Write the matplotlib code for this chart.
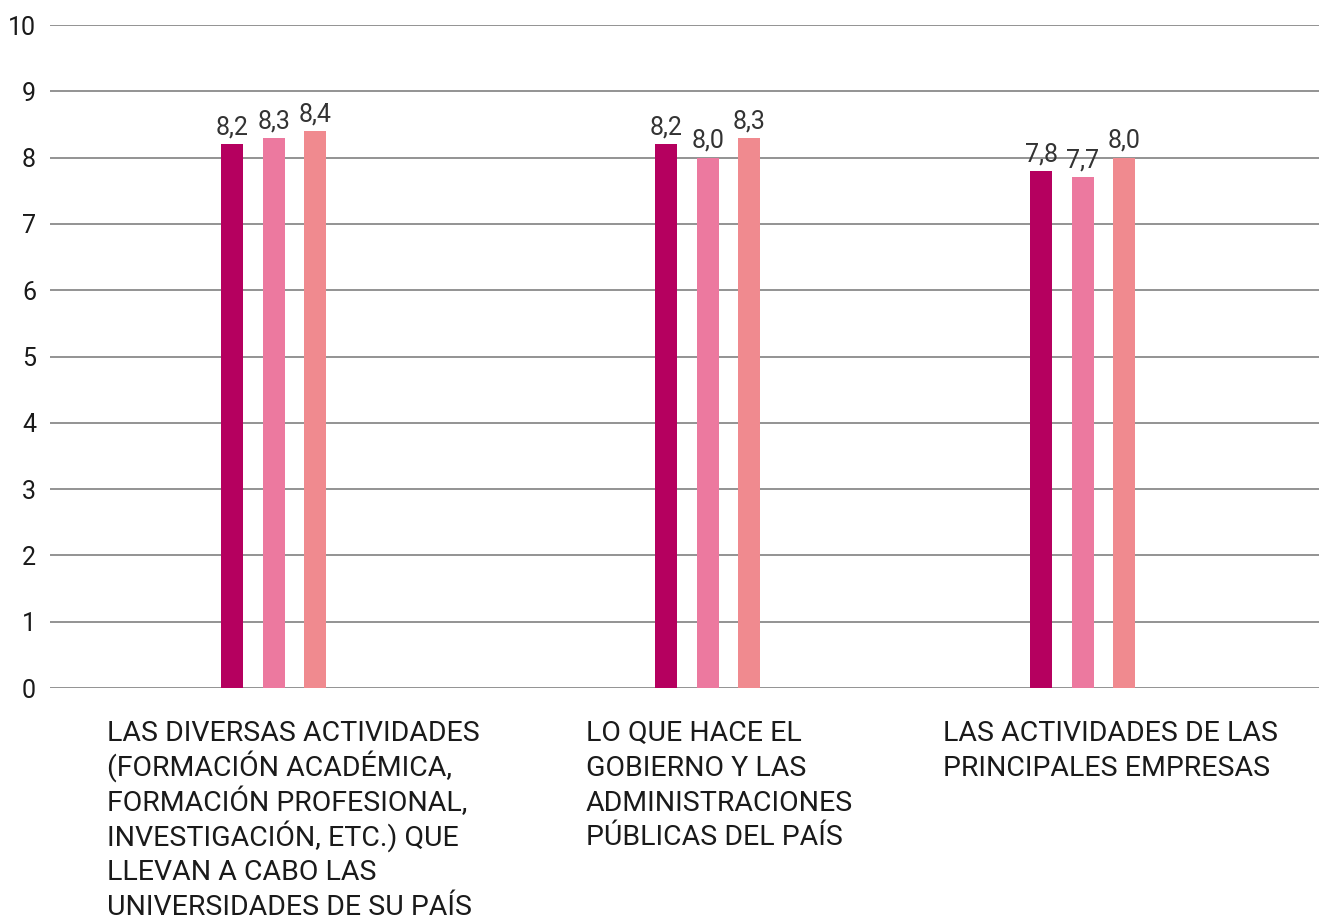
import numpy as np
import matplotlib.pyplot as plt

# datos
categorias = [
    ["LAS DIVERSAS ACTIVIDADES", "(FORMACIÓN ACADÉMICA,", "FORMACIÓN PROFESIONAL,",
     "INVESTIGACIÓN, ETC.) QUE", "LLEVAN A CABO LAS", "UNIVERSIDADES DE SU PAÍS"],
    ["LO QUE HACE EL", "GOBIERNO Y LAS", "ADMINISTRACIONES", "PÚBLICAS DEL PAÍS"],
    ["LAS ACTIVIDADES DE LAS", "PRINCIPALES EMPRESAS"],
]
serie_1 = [8.2, 8.2, 7.8]
serie_2 = [8.3, 8.0, 7.7]
serie_3 = [8.4, 8.3, 8.0]
colores = ["#b5005f", "#ec799f", "#f08a8f"]

plt.rcParams['font.family'] = ['Roboto', 'DejaVu Sans']

W, H = 1319, 922
fig = plt.figure(figsize=(W / 100, H / 100), dpi=100)
ax = fig.add_axes([50 / W, 1 - 688 / H, 1 - 50 / W, (688 - 25) / H])

# posiciones de los grupos (en px dentro del eje)
pos_grupos = np.array([224, 658, 1033])
desplaz = [-42, 0, 41]
ancho = 22

for serie, d, c in zip([serie_1, serie_2, serie_3], desplaz, colores):
    barras = ax.bar(pos_grupos + d, serie, width=ancho, color=c, zorder=3)
    for b, v in zip(barras, serie):
        ax.text(b.get_x() + b.get_width() / 2, v + 0.07, f"{v:.1f}".replace(".", ","),
                ha="center", va="bottom", fontsize=18, color="#333333")

ax.set_xlim(0, W - 50)
ax.set_ylim(0, 10)
ax.set_yticks(range(0, 11))
ax.yaxis.grid(True, color="#808080", linewidth=1.2, zorder=0)
ax.set_xticks([])
ax.tick_params(axis="y", length=0, labelsize=18, pad=10, labelcolor="#1a1a1a")
for s in ax.spines.values():
    s.set_visible(False)

# etiquetas de categoría, una línea cada vez
x_etiquetas = [107, 586, 943]
for xe, lineas in zip(x_etiquetas, categorias):
    for i, linea in enumerate(lineas):
        fig.text(xe / W, 1 - (741 + 34.8 * i) / H, linea, ha="left", va="baseline",
                 fontsize=20.5, color="#1a1a1a")

fig.savefig("out.png", dpi=100)
